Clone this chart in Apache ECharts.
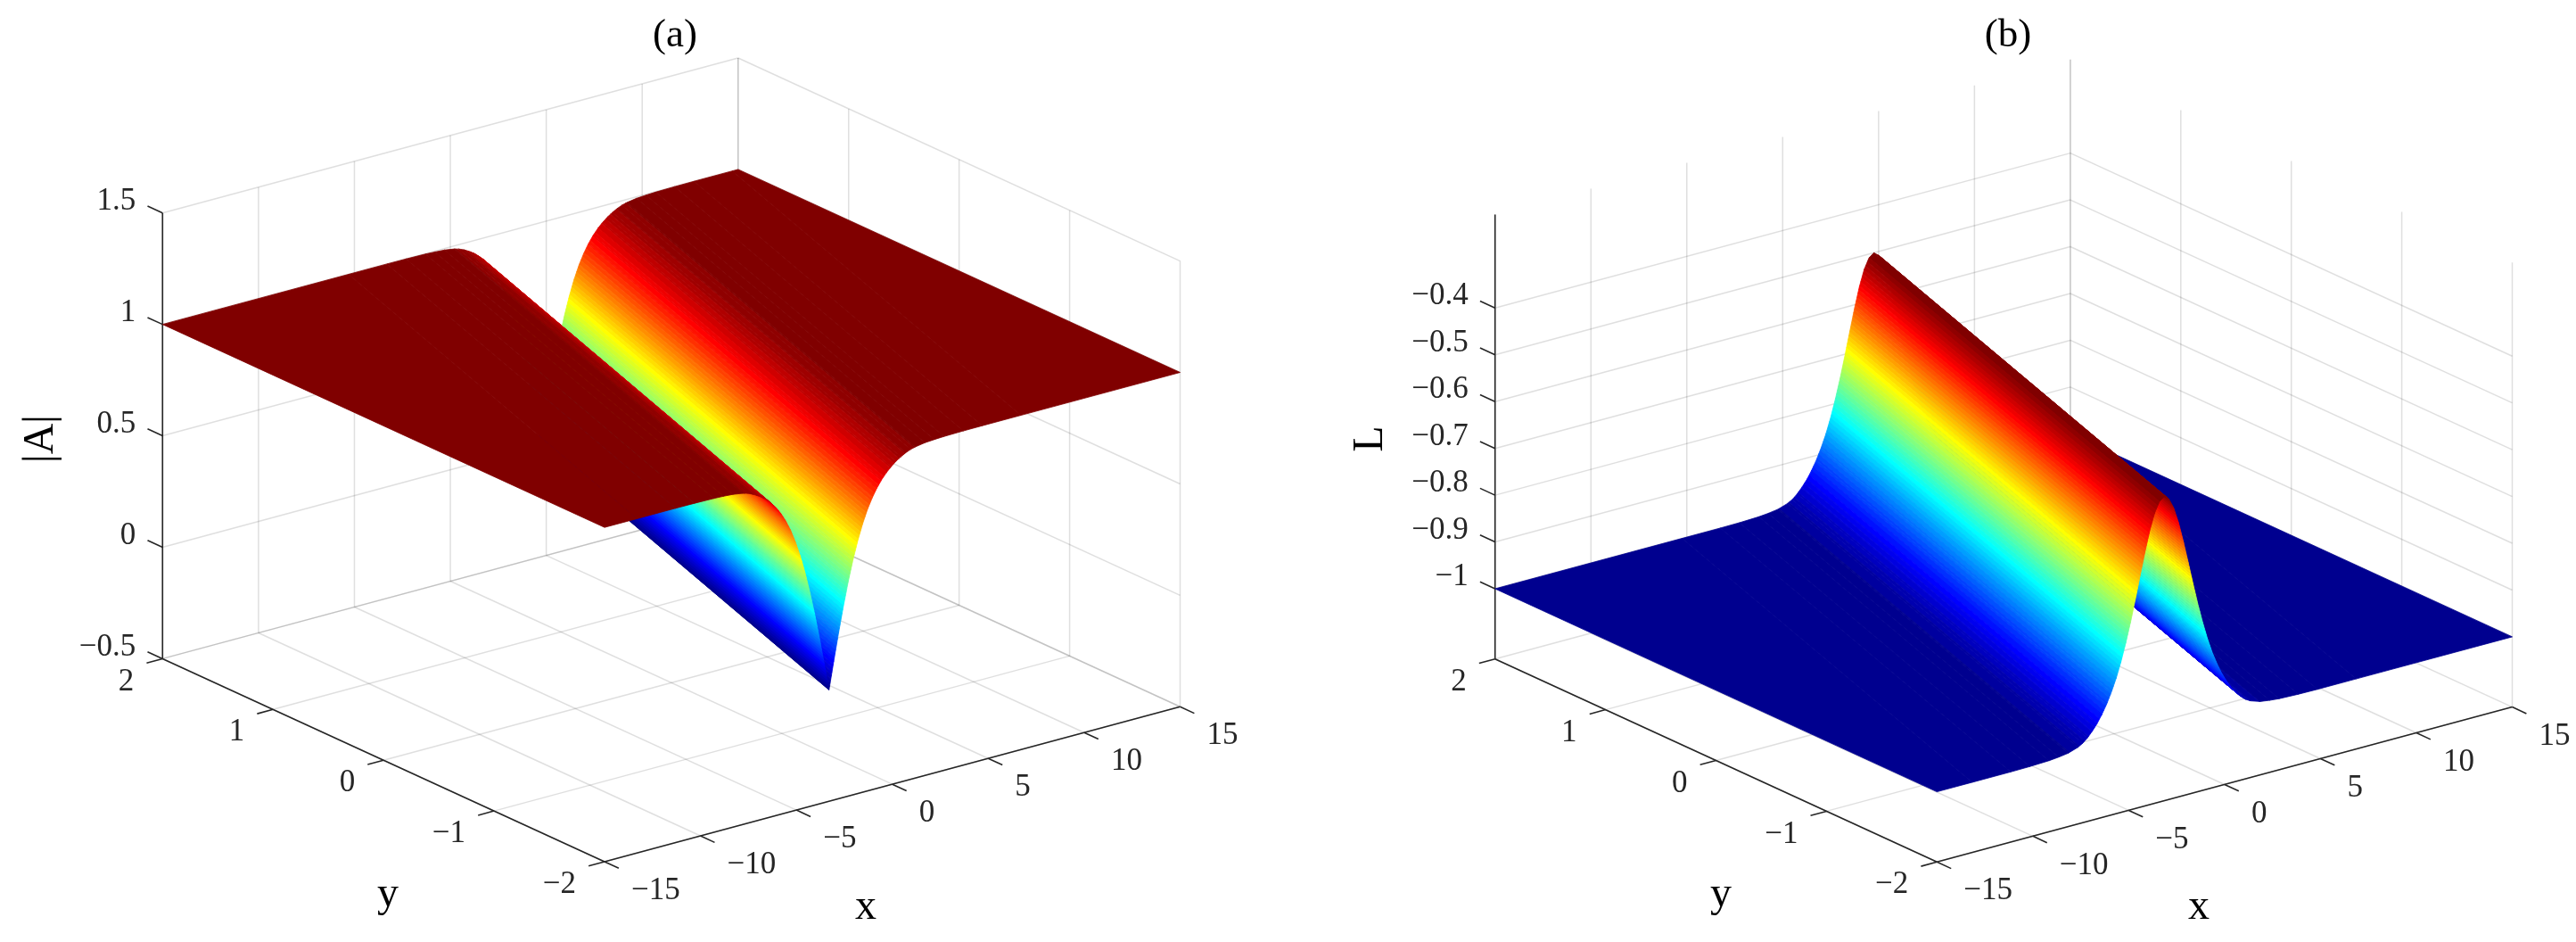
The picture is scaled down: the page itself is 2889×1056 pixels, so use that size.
<!DOCTYPE html>
<html><head><meta charset="utf-8">
<style>html,body{margin:0;padding:0;background:#fff}#c{width:2889px;height:1056px}</style>
<script src="https://cdn.jsdelivr.net/npm/echarts@6/dist/echarts.min.js"></script>
</head><body><div id="c"></div>
<script>
// ---- values ----
const xTicks = [-15,-10,-5,0,5,10,15];
const yTicks = [-2,-1,0,1,2];
const zTicksA = [-0.5,0,0.5,1,1.5];
const zTicksB = [-1,-0.9,-0.8,-0.7,-0.6,-0.5,-0.4];
const zLabelsA = ['−0.5','0','0.5','1','1.5'];
const zLabelsB = ['−1','−0.9','−0.8','−0.7','−0.6','−0.5','−0.4'];
const xLabels = ['−15','−10','−5','0','5','10','15'];
const yLabels = ['−2','−1','0','1','2'];
// soliton centre line: x of the trough / crest at y = -2 and y = 2
const centreA = [-3.3, 4.7];
const centreB = [-3.15, 4.75];
// cross-section: distance from the centre line -> surface height
const offsets = [0,0.25,0.5,0.75,1,1.25,1.5,1.75,2,2.25,2.5,2.75,3,3.25,3.5,3.75,4,4.25,4.5,5,5.5,6,7,8,10,20];
const heightA = [0,0.124,0.245,0.358,0.462,0.555,0.635,0.704,0.762,0.809,0.848,0.880,0.906,0.927,0.945,0.959,0.971,0.980,0.986,0.993,0.996,0.998,0.9995,1,1,1];
const heightB = [-0.5,-0.508,-0.530,-0.564,-0.607,-0.654,-0.702,-0.748,-0.790,-0.8275,-0.860,-0.887,-0.9104,-0.9297,-0.9465,-0.9599,-0.9714,-0.9802,-0.9861,-0.993,-0.996,-0.998,-0.9995,-1,-1,-1];

// ---- view of each panel (orthographic box) ----
const panelA = {origin:[678,966], xVec:[645.5,-173.7], yVec:[-495.7,-227.6], zVec:[0,-499.7], zRange:[-0.5,1.5], clim:[0,1]};
const panelB = {origin:[2172.3,966.3], xVec:[645.2,-173.7], yVec:[-495.6,-227.6], zVec:[0,-498.3], zRange:[-1.15,-0.2], clim:[-1,-0.5]};
const xRange=[-15,15], yRange=[-2,2];

function project(p,x,y,z){
  const a=(x-xRange[0])/(xRange[1]-xRange[0]), b=(y-yRange[0])/(yRange[1]-yRange[0]), c=(z-p.zRange[0])/(p.zRange[1]-p.zRange[0]);
  return [p.origin[0]+a*p.xVec[0]+b*p.yVec[0]+c*p.zVec[0], p.origin[1]+a*p.xVec[1]+b*p.yVec[1]+c*p.zVec[1]];
}
// MATLAB jet(64)
function jet(i){ // i = 1..64
  const cl=v=>Math.max(0,Math.min(1,v));
  const r=cl(Math.min((i-24)/16,1-(i-56)/16)), g=cl(Math.min((i-8)/16,(56-i)/16)), b=cl(Math.min(0.5+i/16,(40-i)/16));
  return 'rgb('+Math.round(r*255)+','+Math.round(g*255)+','+Math.round(b*255)+')';
}
// cross-section sorted far to near (descending signed offset), split at colour-level edges
function buildBands(us,zs,clim){
  const su=[],sz=[];
  for(let i=us.length-1;i>=0;i--){su.push(us[i]);sz.push(zs[i]);}
  for(let i=1;i<us.length;i++){su.push(-us[i]);sz.push(zs[i]);}
  const lev=z=>(z-clim[0])/(clim[1]-clim[0])*64;
  const idx=l=>Math.max(0,Math.min(63,Math.floor(l)));
  const out=[];
  for(let i=0;i+1<su.length;i++){
    const ub=su[i+1],zb=sz[i+1];
    const la=lev(sz[i]),lb=lev(zb);
    const cuts=[];
    const lo=Math.min(la,lb),hi=Math.max(la,lb);
    for(let k=Math.ceil(lo);k<=Math.floor(hi)&&k<=63;k++){ if(k>lo&&k<hi&&k>0) cuts.push((k-la)/(lb-la)); }
    cuts.sort((m,n)=>m-n); cuts.push(1);
    let t0=0;
    for(const t of cuts){
      const u0=su[i]+(ub-su[i])*t0,u1=su[i]+(ub-su[i])*t;
      const z0=sz[i]+(zb-sz[i])*t0,z1=sz[i]+(zb-sz[i])*t;
      out.push([u0,u1,z0,z1,idx((lev(z0)+lev(z1))/2)+1]);
      t0=t;
    }
  }
  return out;
}
function clipX(poly){ // poly of [x,y,z], clip to the x range
  const clip=(pts,lim,sign)=>{
    const res=[];
    for(let i=0;i<pts.length;i++){
      const a=pts[i],b=pts[(i+1)%pts.length];
      const ia=(a[0]-lim)*sign>=0, ib=(b[0]-lim)*sign>=0;
      if(ia)res.push(a);
      if(ia!==ib){const t=(lim-a[0])/(b[0]-a[0]);res.push([lim,a[1]+t*(b[1]-a[1]),a[2]+t*(b[2]-a[2])]);}
    }
    return res;
  };
  return clip(clip(poly,xRange[0],1),xRange[1],-1);
}
function surfaceSeries(p,centre,heights){
  const rows=buildBands(offsets,heights,p.clim);
  return {type:'custom',coordinateSystem:'cartesian2d',silent:true,animation:false,progressive:0,z:3,
    data:rows.map((r,i)=>[i,0]),
    renderItem(params,api){
      const r=rows[params.dataIndex];
      const quad=[[centre[0]+r[0],yRange[0],r[2]],[centre[1]+r[0],yRange[1],r[2]],[centre[1]+r[1],yRange[1],r[3]],[centre[0]+r[1],yRange[0],r[3]]];
      const poly=clipX(quad);
      if(poly.length<3) return null;
      const col=jet(r[4]);
      return {type:'polygon',shape:{points:poly.map(q=>api.coord(project(p,q[0],q[1],q[2])))},style:{fill:col,stroke:col,lineWidth:0.8}};
    }};
}
function unit(v,len){const n=Math.hypot(v[0],v[1]);return [v[0]/n*len,v[1]/n*len];}
function frameSeries(p,zTicks){
  const z0=p.zRange[0],z1=p.zRange[1],xa=xRange[0],xb=xRange[1],ya=yRange[0],yb=yRange[1];
  const grid=[],dark=[];
  xTicks.forEach(x=>{grid.push([[x,ya,z0],[x,yb,z0]]);grid.push([[x,yb,z0],[x,yb,z1]]);});
  yTicks.forEach(y=>{grid.push([[xa,y,z0],[xb,y,z0]]);grid.push([[xb,y,z0],[xb,y,z1]]);});
  zTicks.forEach(z=>{grid.push([[xa,yb,z],[xb,yb,z]]);grid.push([[xb,yb,z],[xb,ya,z]]);});
  dark.push([[xa,yb,z0],[xa,yb,z1]]);dark.push([[xa,ya,z0],[xa,yb,z0]]);dark.push([[xa,ya,z0],[xb,ya,z0]]);
  const seg=(s,col,w,zz)=>({type:'custom',coordinateSystem:'cartesian2d',silent:true,animation:false,progressive:0,z:zz,
    data:s.map((r,i)=>[i,0]),
    renderItem(params,api){
      const q=s[params.dataIndex];
      let a=project(p,q[0][0],q[0][1],q[0][2]),b=project(p,q[1][0],q[1][1],q[1][2]);
      if(q[2]){b=[a[0]+q[2][0],a[1]+q[2][1]];}
      a=api.coord(a);b=api.coord(b);
      return {type:'line',shape:{x1:a[0],y1:a[1],x2:b[0],y2:b[1]},style:{stroke:col,lineWidth:w,fill:null}};
    }});
  const tz=unit(p.yVec,18.5),ty=unit([-p.xVec[0],-p.xVec[1]],18.5),tx=unit([-p.yVec[0],-p.yVec[1]],17.5);
  zTicks.forEach(z=>dark.push([[xa,yb,z],[xa,yb,z],tz]));
  yTicks.forEach(y=>dark.push([[xa,y,z0],[xa,y,z0],ty]));
  xTicks.forEach(x=>dark.push([[x,ya,z0],[x,ya,z0],tx]));
  return [seg(grid,'rgba(38,38,38,0.15)',1.5,1),seg(dark,'#262626',1.6,2)];
}
function labelSeries(items){
  return {type:'custom',coordinateSystem:'cartesian2d',silent:true,animation:false,progressive:0,z:5,
    data:items.map((r,i)=>[i,0]),
    renderItem(params,api){
      const t=items[params.dataIndex],c=api.coord(t.at);
      return {type:'text',x:c[0],y:c[1],rotation:t.rot||0,style:{text:t.text,fontFamily:'Liberation Serif',fontSize:t.size,fill:t.col||'#262626',align:t.align,verticalAlign:'middle'}};
    }};
}
function tickLabels(p,zTicks,zLabels,nameZ,nameZAt,nameY,nameX){
  const z0=p.zRange[0],out=[],S=35;
  zTicks.forEach((z,i)=>{const q=project(p,xRange[0],yRange[1],z);out.push({text:zLabels[i],at:[q[0]-30,q[1]-13],align:'right',size:S});});
  yTicks.forEach((y,i)=>{const q=project(p,xRange[0],y,z0);out.push({text:yLabels[i],at:[q[0]-32,q[1]+26],align:'right',size:S});});
  xTicks.forEach((x,i)=>{const q=project(p,x,yRange[0],z0);out.push({text:xLabels[i],at:[q[0]+30,q[1]+33],align:'left',size:S});});
  out.push({text:nameZ,at:nameZAt,align:'center',size:48,rot:Math.PI/2,col:'#000'});
  out.push({text:'y',at:nameY,align:'center',size:48,col:'#000'});
  out.push({text:'x',at:nameX,align:'center',size:48,col:'#000'});
  return out;
}
const chart=echarts.init(document.getElementById('c'),null,{renderer:'canvas'});
chart.setOption({
  backgroundColor:'#fff',animation:false,
  title:[
    {text:'(a)',left:752,top:13,textAlign:'center',textStyle:{fontFamily:'Liberation Serif',fontSize:45,fontWeight:'normal',color:'#000'}},
    {text:'(b)',left:2247,top:13,textAlign:'center',textStyle:{fontFamily:'Liberation Serif',fontSize:45,fontWeight:'normal',color:'#000'}}
  ],
  grid:{left:0,right:0,top:0,bottom:0},
  xAxis:{type:'value',min:0,max:2889,show:false},
  yAxis:{type:'value',min:0,max:1056,inverse:true,show:false},
  series:[
    ...frameSeries(panelA,zTicksA),
    ...frameSeries(panelB,zTicksB),
    surfaceSeries(panelA,centreA,heightA),
    surfaceSeries(panelB,centreB,heightB),
    labelSeries(tickLabels(panelA,zTicksA,zLabelsA,'|A|',[46,492],[435,1003],[971,1017])),
    labelSeries(tickLabels(panelB,zTicksB,zLabelsB,'L',[1537,492],[1930,1003],[2466,1017]))
  ]
});
</script></body></html>
